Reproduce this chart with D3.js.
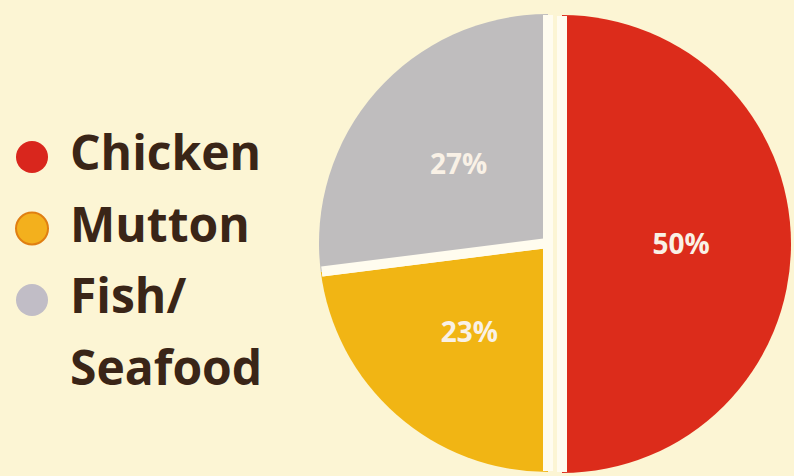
<!DOCTYPE html>
<html>
<head>
<meta charset="utf-8">
<script src="https://cdn.jsdelivr.net/npm/d3@7"></script>
<style>
  html, body { margin: 0; padding: 0; background: #fcf5d4; }
  svg { display: block; }
</style>
</head>
<body>
<div id="chart"></div>
<script>
var width = 794,
    height = 476;

// data
var categories = ["Chicken", "Mutton", "Fish/Seafood"];
var legendLines = [["Chicken"], ["Mutton"], ["Fish/", "Seafood"]];
var values = [50, 23, 27];
var colors = ["#dc2c1b", "#f1b514", "#bfbdbe"];
var legendColors = ["#d9261d", "#f3b01d", "#c1bdc6"];

var svg = d3.select("#chart")
  .append("svg")
  .attr("width", width)
  .attr("height", height);

svg.append("rect")
  .attr("width", width)
  .attr("height", height)
  .attr("fill", "#fcf5d4");

// pie
var cx = 548, cy = 243, radius = 229;
var explodeX = [14, 0, 0], explodeY = [1, 0, 0]; // red half pulled to the right
var gapWidth = 10;

var pie = d3.pie()
  .sort(null)
  .value(d => d);

var arc = d3.arc()
  .innerRadius(0)
  .outerRadius(radius);

var labelArc = d3.arc()
  .innerRadius(radius * 1.04)
  .outerRadius(0);

var arcs = pie(values);

var g = svg.append("g")
  .attr("transform", `translate(${cx},${cy})`);

var slices = g.selectAll(".slice")
  .data(arcs)
  .enter()
  .append("g")
  .attr("class", "slice")
  .attr("transform", (d, i) => `translate(${explodeX[i]},${explodeY[i]})`);

slices.append("path")
  .attr("d", arc)
  .attr("fill", (d, i) => colors[i]);

// white separators along the straight edges of each slice
slices.selectAll(".edge")
  .data(d => [d.startAngle, d.endAngle])
  .enter()
  .append("line")
  .attr("class", "edge")
  .attr("x1", 0)
  .attr("y1", 0)
  .attr("x2", a => Math.sin(a) * (radius - 1))
  .attr("y2", a => -Math.cos(a) * (radius - 1))
  .attr("stroke", "#fffcef")
  .attr("stroke-width", gapWidth);

slices.append("text")
  .attr("transform", d => `translate(${labelArc.centroid(d)})`)
  .attr("text-anchor", "middle")
  .attr("dy", "0.36em")
  .attr("font-family", "'Open Sans', sans-serif")
  .attr("font-weight", "bold")
  .attr("font-size", "28px")
  .attr("fill", "#f9f1e6")
  .text(d => d.data + "%");

// legend
var legendY = d3.scalePoint()
  .domain(categories)
  .range([157, 300]);

var legend = svg.selectAll(".legend")
  .data(categories)
  .enter()
  .append("g")
  .attr("class", "legend")
  .attr("transform", d => `translate(0,${legendY(d)})`);

legend.append("circle")
  .attr("cx", 32)
  .attr("cy", 0)
  .attr("r", 16)
  .attr("fill", (d, i) => legendColors[i])
  .attr("stroke", (d, i) => i === 1 ? "#e07f12" : "none")
  .attr("stroke-width", 2);

legend.append("text")
  .attr("x", 70)
  .attr("y", 13)
  .attr("font-family", "'Open Sans', sans-serif")
  .attr("font-weight", "bold")
  .attr("font-size", "48px")
  .attr("fill", "#3a2517")
  .selectAll("tspan")
  .data((d, i) => legendLines[i])
  .enter()
  .append("tspan")
  .attr("x", 70)
  .attr("dy", (d, i) => i === 0 ? 0 : 72)
  .text(d => d);
</script>
</body>
</html>
